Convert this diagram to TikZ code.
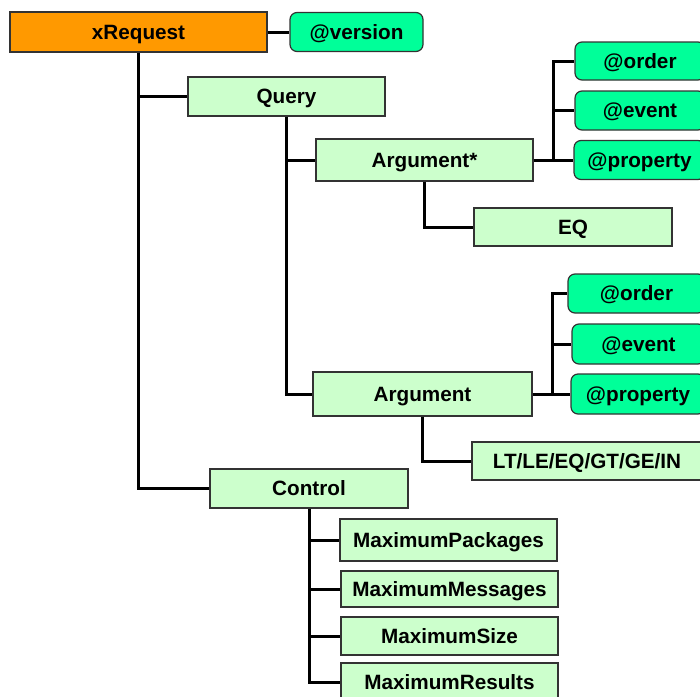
\documentclass[tikz,border=0pt]{standalone}
\usepackage{fontspec}
\setmainfont{Liberation Sans}
\definecolor{orangeA}{HTML}{FF9900}
\definecolor{attrG}{HTML}{00FF99}
\definecolor{elemG}{HTML}{CCFFCC}
\definecolor{edgeG}{HTML}{333333}
\tikzset{
  base/.style={draw=edgeG, line width=1.2pt, inner sep=0pt, text height=14.7pt, text depth=0pt, font=\fontsize{20.7}{24}\selectfont\bfseries, text=black},
  root/.style={base, fill=orangeA},
  elem/.style={base, fill=elemG},
  attr/.style={base, fill=attrG, rounded corners=7pt},
  wire/.style={line width=3pt, black}
}
\begin{document}
\begin{tikzpicture}[x=1pt,y=-1pt]
\useasboundingbox (0,0) rectangle (700,696);
\clip (0,0) rectangle (700,696);
\fill[white] (0,0) rectangle (700,696);
% nodes
\node[root, minimum width=257pt, minimum height=40pt] (xreq) at (138.5,32) {xRequest};
\node[attr, minimum width=133pt, minimum height=39pt] (ver) at (356.5,32) {@version};
\node[elem, minimum width=197pt, minimum height=39pt] (query) at (286.5,96.5) {Query};
\node[elem, minimum width=217pt, minimum height=42pt] (argstar) at (424.5,160) {Argument*};
\node[attr, minimum width=130pt, minimum height=38pt] (ordA) at (640,61) {@order};
\node[attr, minimum width=130pt, minimum height=39pt] (evtA) at (640,110.5) {@event};
\node[attr, minimum width=131pt, minimum height=39pt] (propA) at (639.5,160) {@property};
\node[elem, minimum width=198pt, minimum height=38pt] (eq) at (573,227) {EQ};
\node[attr, minimum width=137pt, minimum height=39pt] (ordB) at (636.5,293.5) {@order};
\node[attr, minimum width=133pt, minimum height=40pt] (evtB) at (638.5,344) {@event};
\node[attr, minimum width=134pt, minimum height=40pt] (propB) at (638,394) {@property};
\node[elem, minimum width=219pt, minimum height=44pt] (arg) at (422.5,394) {Argument};
\node[elem, minimum width=230pt, minimum height=38pt] (lt) at (587,461) {LT/LE/EQ/GT/GE/IN};
\node[elem, minimum width=198pt, minimum height=39pt] (control) at (309,488.5) {Control};
\node[elem, minimum width=217pt, minimum height=42pt] (mp) at (448.5,540) {MaximumPackages};
\node[elem, minimum width=217pt, minimum height=36pt] (mm) at (449.5,589) {MaximumMessages};
\node[elem, minimum width=217pt, minimum height=38pt] (ms) at (449.5,636) {MaximumSize};
\node[elem, minimum width=217pt, minimum height=38pt] (mr) at (449.5,682) {MaximumResults};
\coordinate (jA) at (553,160);
\coordinate (jB) at (552,394);
% connectors
\draw[wire] (xreq.east) -- (ver.west);
\draw[wire] (xreq.south) |- (control.west);
\draw[wire] (xreq.south |- query.west) -- (query.west);
\draw[wire] (query.south) |- (arg.west);
\draw[wire] (query.south |- argstar.west) -- (argstar.west);
\draw[wire] (argstar.east) -| (jA |- ordA.west) -- (ordA.west);
\draw[wire] (jA |- evtA.west) -- (evtA.west);
\draw[wire] (jA |- propA.west) -- (propA.west);
\draw[wire] (argstar.south) |- (eq.west);
\draw[wire] (arg.east) -| (jB |- ordB.west) -- (ordB.west);
\draw[wire] (jB |- evtB.west) -- (evtB.west);
\draw[wire] (jB |- propB.west) -- (propB.west);
\draw[wire] (arg.south) |- (lt.west);
\draw[wire] (control.south) |- (mr.west);
\draw[wire] (control.south |- mp.west) -- (mp.west);
\draw[wire] (control.south |- mm.west) -- (mm.west);
\draw[wire] (control.south |- ms.west) -- (ms.west);
\end{tikzpicture}
\end{document}
